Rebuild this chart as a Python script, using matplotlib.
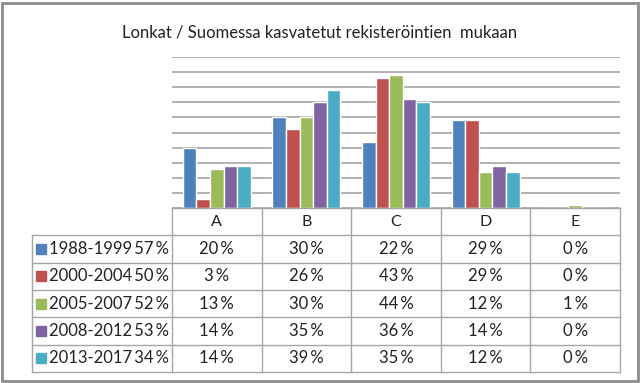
import matplotlib.pyplot as plt
from matplotlib.patches import Rectangle

plt.rcParams['font.family'] = ['Lato', 'DejaVu Sans']

title = "Lonkat / Suomessa kasvatetut rekisteröintien  mukaan"
categories = ["A", "B", "C", "D", "E"]
series_names = ["1988-1999\u200957\u2009%", "2000-2004\u200950\u2009%", "2005-2007\u200952\u2009%",
                "2008-2012\u200953\u2009%", "2013-2017\u200934\u2009%"]
s1988 = [20, 30, 22, 29, 0]
s2000 = [3, 26, 43, 29, 0]
s2005 = [13, 30, 44, 12, 1]
s2008 = [14, 35, 36, 14, 0]
s2013 = [14, 39, 35, 12, 0]
series = [s1988, s2000, s2005, s2008, s2013]
colors = ['#4F81BD', '#C0504D', '#9BBB59', '#8064A2', '#4BACC6']

W, H = 640, 383
fig = plt.figure(figsize=(6.4, 3.83), dpi=100)

# outer chart border
fig.patches.append(Rectangle((2 / W, 2 / H), 636 / W, 378 / H, transform=fig.transFigure,
                             fill=False, edgecolor='#8C8C8C', linewidth=2))

fig.text(320 / W, 1 - 33 / H, title, ha='center', va='center', fontsize=12, color='#222222')

# bar area: x 172..620 px, y 57..208 px
ax = fig.add_axes([172 / W, 1 - 208 / H, 448 / W, 151 / H])
n = len(series)
bw = 0.152
for i, (vals, c) in enumerate(zip(series, colors)):
    xs = [k + (i - (n - 1) / 2) * bw for k in range(len(categories))]
    ax.bar(xs, vals, width=bw, color=c, edgecolor='white', linewidth=1.0, zorder=3)
ax.set_xlim(-0.5, len(categories) - 0.5)
ax.set_ylim(0, 50)
ax.set_yticks(range(0, 51, 5))
ax.grid(axis='y', color='#A6A6A6', linewidth=1.2, zorder=0)
ax.tick_params(left=False, bottom=False, labelleft=False, labelbottom=False)
for sp in ax.spines.values():
    sp.set_visible(False)

# data table: x 32..620 px, y 208..372 px
label_w = 140 / 89.6
tx = fig.add_axes([32 / W, 1 - 372 / H, 588 / W, 164 / H])
tx.set_xlim(-0.5 - label_w, len(categories) - 0.5)
tx.set_ylim(n + 1, 0)
tx.axis('off')
lc = '#A6A6A6'
x0 = -0.5 - label_w
xr = len(categories) - 0.5
# horizontal lines
tx.plot([-0.5, xr], [0, 0], color=lc, lw=1, clip_on=False)
for r in range(1, n + 2):
    tx.plot([x0, xr], [r, r], color=lc, lw=1, clip_on=False)
# vertical lines
tx.plot([x0, x0], [1, n + 1], color=lc, lw=1, clip_on=False)
for k in range(len(categories) + 1):
    tx.plot([k - 0.5, k - 0.5], [0, n + 1], color=lc, lw=1, clip_on=False)

for k, cat in enumerate(categories):
    tx.text(k, 0.5, cat, ha='center', va='center', fontsize=11.5, color='#222222')
for i, (name, vals, c) in enumerate(zip(series_names, series, colors)):
    y = i + 1.5
    tx.plot([x0 + 0.1], [y], marker='s', markersize=7, color=c, clip_on=False)
    tx.text(x0 + 0.19, y, name, ha='left', va='center', fontsize=12, color='#222222')
    for k, v in enumerate(vals):
        tx.text(k, y, f"{v}\u2009%", ha='center', va='center', fontsize=12, color='#222222')

fig.savefig('out.png', dpi=100)
